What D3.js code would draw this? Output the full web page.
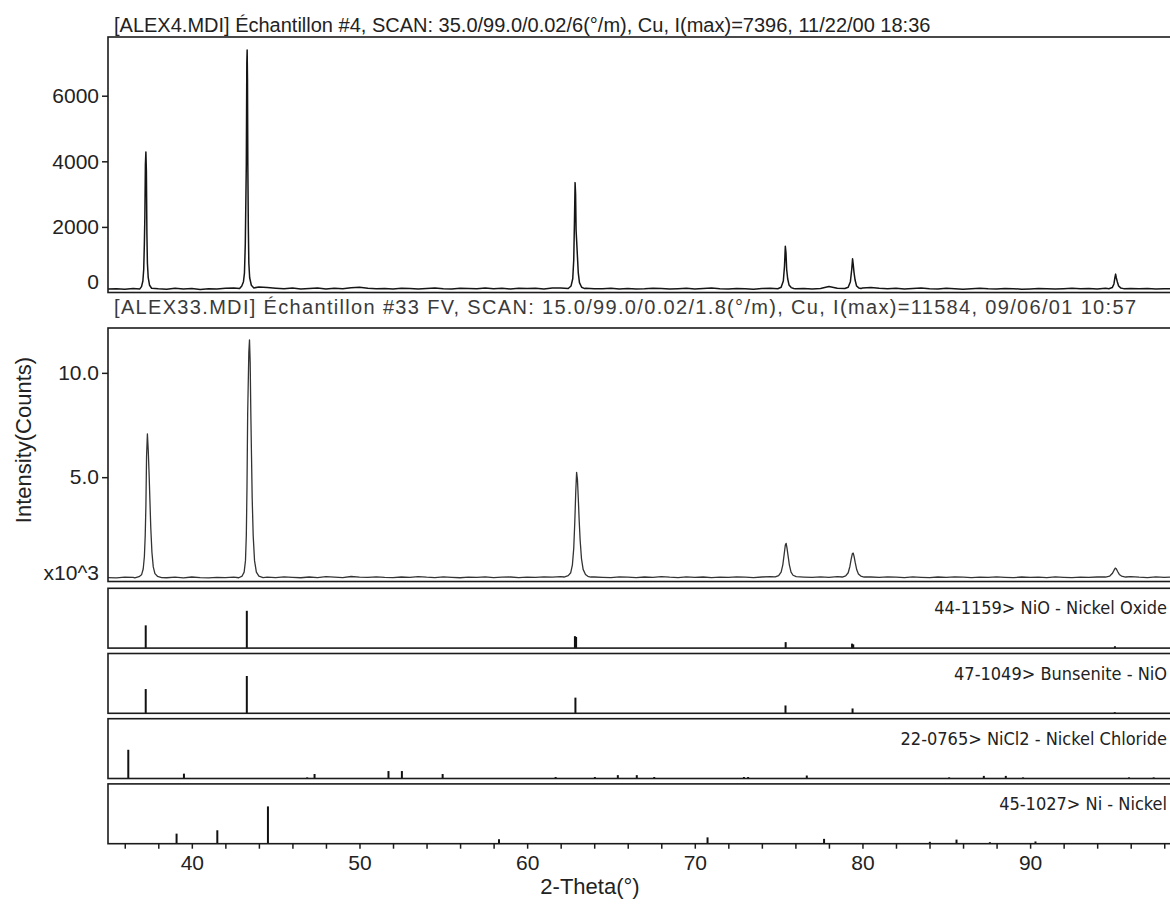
<!DOCTYPE html>
<html>
<head>
<meta charset="utf-8">
<script src="https://cdn.jsdelivr.net/npm/d3@7"></script>
<style>
  body { margin: 0; background: #fff; }
  svg { display: block; }
</style>
</head>
<body>
<svg id="chart" width="1170" height="906"></svg>
<script>
// ---------------- data ----------------
const thetaRange = [35, 99];
const thetaTicks = d3.range(36, 99, 2);          // minor/major ticks every 2°
const scanATicks = [0, 2000, 4000, 6000];
const scanBTicks = [0, 5000, 10000];

const scanATitle = "[ALEX4.MDI] Échantillon #4, SCAN: 35.0/99.0/0.02/6(°/m), Cu, I(max)=7396, 11/22/00 18:36";
const scanBTitle = "[ALEX33.MDI] Échantillon #33 FV, SCAN: 15.0/99.0/0.02/1.8(°/m), Cu, I(max)=11584, 09/06/01 10:57";

// ALEX4 background counts [2θ, counts]
const scanABackground = [
  [35.0,105],[35.5,118],[36.0,96],[36.5,124],[38.0,112],[38.5,98],[39.0,130],[39.5,104],
  [40.0,120],[40.5,92],[41.0,115],[41.5,108],[42.0,126],[42.5,140],[44.0,170],[44.5,150],
  [45.0,132],[45.5,118],[46.0,140],[46.5,110],[47.0,125],[47.5,136],[48.0,105],[48.5,128],
  [49.0,118],[49.5,146],[50.0,160],[50.5,132],[51.0,115],[51.5,124],[52.0,108],[52.5,132],
  [53.0,120],[53.5,104],[54.0,125],[54.5,140],[55.0,118],[55.5,108],[56.0,130],[56.5,122],
  [57.0,112],[57.5,138],[58.0,115],[58.5,126],[59.0,108],[59.5,132],[60.0,120],[60.5,128],
  [61.0,110],[61.5,135],[62.0,140],[63.5,128],[64.0,118],[64.5,112],[65.0,130],[65.5,110],
  [66.0,124],[66.5,108],[67.0,115],[67.5,132],[68.0,120],[68.5,105],[69.0,118],[69.5,126],
  [70.0,110],[70.5,122],[71.0,135],[71.5,118],[72.0,108],[72.5,125],[73.0,115],[73.5,102],
  [74.0,120],[74.5,128],[76.0,112],[76.5,120],[77.0,108],[77.5,125],[78.0,185],[78.5,130],
  [80.0,135],[80.5,150],[81.0,128],[81.5,118],[82.0,132],[82.5,110],[83.0,124],[83.5,138],
  [84.0,115],[84.5,108],[85.0,126],[85.5,118],[86.0,102],[86.5,115],[87.0,130],[87.5,112],
  [88.0,105],[88.5,122],[89.0,118],[89.5,98],[90.0,110],[90.5,125],[91.0,115],[91.5,104],
  [92.0,118],[92.5,130],[93.0,112],[93.5,120],[94.0,105],[94.5,128],[96.0,125],[96.5,112],
  [97.0,120],[97.5,106],[98.0,118],[98.5,110],[99.0,115]
];

// ALEX4 reflections [2θ, counts]
const scanAPeak111 = [[36.90,110],[37.00,180],[37.08,350],[37.13,700],[37.17,1500],[37.20,2350],[37.23,3900],[37.26,4280],[37.29,3700],[37.32,1800],[37.35,900],[37.40,450],[37.48,220],[37.60,130]];
const scanAPeak200 = [[42.85,120],[42.98,200],[43.08,330],[43.14,600],[43.19,1500],[43.22,2700],[43.25,3900],[43.28,7000],[43.30,7396],[43.32,6500],[43.34,3900],[43.37,2000],[43.40,900],[43.45,450],[43.55,220],[43.70,140]];
const scanAPeak220 = [[62.45,120],[62.62,200],[62.72,420],[62.78,1000],[62.82,2100],[62.86,3350],[62.89,3000],[62.92,1900],[62.96,1500],[63.00,1100],[63.05,600],[63.12,300],[63.25,160],[63.40,125]];
const scanAPeak311 = [[74.95,115],[75.15,160],[75.28,350],[75.35,800],[75.40,1411],[75.44,1200],[75.48,700],[75.54,420],[75.62,230],[75.75,150],[75.90,120]];
const scanAPeak222 = [[78.95,120],[79.15,160],[79.28,330],[79.36,700],[79.41,1030],[79.45,850],[79.50,600],[79.56,380],[79.65,200],[79.78,140],[79.92,125]];
const scanAPeak400 = [[94.70,115],[94.90,150],[95.00,260],[95.06,460],[95.10,560],[95.14,450],[95.20,330],[95.28,200],[95.40,140],[95.58,118]];

// ALEX33 background counts [2θ, counts]
const scanBBackground = [
  [35.0,190],[35.5,175],[36.0,210],[36.5,195],[38.5,180],[39.0,205],[39.5,170],[40.0,215],
  [40.5,190],[41.0,175],[41.5,200],[42.0,185],[42.5,210],[44.5,205],[45.0,185],[45.5,225],
  [46.0,200],[46.5,180],[47.0,215],[47.5,190],[48.0,230],[48.5,205],[49.0,185],[49.5,240],
  [50.0,210],[50.5,195],[51.0,225],[51.5,200],[52.0,185],[52.5,215],[53.0,195],[53.5,230],
  [54.0,205],[54.5,190],[55.0,220],[55.5,200],[56.0,180],[56.5,210],[57.0,195],[57.5,220],
  [58.0,190],[58.5,205],[59.0,215],[59.5,185],[60.0,210],[60.5,195],[61.0,225],[61.5,205],
  [62.0,230],[64.0,215],[64.5,200],[65.0,190],[65.5,220],[66.0,205],[66.5,185],[67.0,215],
  [67.5,195],[68.0,230],[68.5,205],[69.0,190],[69.5,220],[70.0,200],[70.5,215],[71.0,185],
  [71.5,210],[72.0,195],[72.5,225],[73.0,205],[73.5,190],[74.0,215],[74.5,235],[76.5,210],
  [77.0,195],[77.5,220],[78.0,200],[78.5,230],[80.5,215],[81.0,195],[81.5,225],[82.0,205],
  [82.5,190],[83.0,220],[83.5,200],[84.0,185],[84.5,215],[85.0,195],[85.5,225],[86.0,205],
  [86.5,190],[87.0,210],[87.5,195],[88.0,220],[88.5,200],[89.0,185],[89.5,215],[90.0,195],
  [90.5,210],[91.0,190],[91.5,220],[92.0,200],[92.5,185],[93.0,210],[93.5,195],[94.0,215],
  [96.0,230],[96.5,205],[97.0,190],[97.5,220],[98.0,200],[98.5,210],[99.0,195]
];

// ALEX33 reflections [2θ, counts]
const scanBPeak111 = [[36.60,170],[36.85,230],[37.00,320],[37.10,600],[37.17,1200],[37.22,2200],[37.26,3600],[37.30,6000],[37.35,7080],[37.40,6300],[37.45,5200],[37.50,3900],[37.55,2600],[37.62,1400],[37.70,700],[37.80,380],[37.95,250],[38.20,190]];
const scanBPeak200 = [[42.80,180],[43.00,260],[43.12,450],[43.20,1000],[43.25,2200],[43.29,4500],[43.33,8000],[43.40,11000],[43.44,11584],[43.48,10500],[43.52,8000],[43.56,6000],[43.60,4000],[43.66,2200],[43.74,1000],[43.85,450],[44.00,260],[44.25,190]];
const scanBPeak220 = [[62.20,215],[62.45,280],[62.60,420],[62.70,800],[62.78,1600],[62.84,2800],[62.90,4300],[62.95,5230],[63.00,4900],[63.05,4000],[63.10,3000],[63.16,2000],[63.24,1100],[63.34,580],[63.48,340],[63.62,250],[63.80,215]];
const scanBPeak311 = [[74.80,220],[75.00,280],[75.15,450],[75.25,800],[75.33,1300],[75.40,1750],[75.45,1830],[75.50,1600],[75.56,1250],[75.64,800],[75.74,450],[75.86,300],[76.05,230]];
const scanBPeak222 = [[78.80,215],[79.00,270],[79.15,420],[79.25,720],[79.33,1080],[79.40,1340],[79.45,1360],[79.50,1200],[79.57,900],[79.66,560],[79.76,360],[79.90,260],[80.10,215]];
const scanBPeak400 = [[94.50,215],[94.75,260],[94.90,380],[95.00,530],[95.08,640],[95.14,610],[95.22,480],[95.32,340],[95.45,260],[95.70,215]];

// reference patterns: [2θ, relative intensity %]
const refNames = [
  "44-1159> NiO - Nickel Oxide",
  "47-1049> Bunsenite - NiO",
  "22-0765> NiCl2 - Nickel Chloride",
  "45-1027> Ni - Nickel"
];
const refNiO = [[37.25,61],[43.28,100],[62.85,32],[62.92,30],[75.42,16],[79.38,12],[79.45,10],[95.06,5]];
const refBunsenite = [[37.25,65],[43.28,100],[62.88,42],[75.41,21],[79.41,13],[95.05,3]];
const refNiCl2 = [[36.21,77],[39.53,13],[46.88,3],[47.32,12],[51.73,20],[52.53,20],[54.96,12],[61.70,4],[64.04,4],[65.41,9],[66.54,9],[67.58,4],[72.93,4],[73.18,4],[76.68,8],[85.17,3],[87.24,7],[88.55,7],[89.58,3],[95.90,3],[97.37,3]];
const refNi = [[39.09,27],[41.52,36],[44.54,100],[58.32,12],[70.76,17],[77.71,13],[84.02,5],[85.61,11],[87.60,4],[90.32,6]];

// ---------------- drawing ----------------
const ink = "#1c1c1c";
const sansFont = "'Liberation Sans', Arial, Helvetica, sans-serif";
const condFont = "'DejaVu Sans Condensed', 'DejaVu Sans', sans-serif";

const svg = d3.select("#chart");
const left = 108, right = 1181;
const x = d3.scaleLinear().domain(thetaRange).range([left, right]);

const defs = svg.append("defs");

function frame(top, bottom) {
  svg.append("rect")
    .attr("x", left).attr("y", top)
    .attr("width", right - left).attr("height", bottom - top)
    .attr("fill", "none").attr("stroke", ink).attr("stroke-width", 1.6);
}

function clipFor(id, top, bottom) {
  defs.append("clipPath").attr("id", id)
    .append("rect").attr("x", left).attr("y", top)
    .attr("width", right - left).attr("height", bottom - top);
  return `url(#${id})`;
}

function mergeScan(background, peaks) {
  const windows = peaks.map(p => [p[0][0], p[p.length - 1][0]]);
  const bg = background.filter(d => !windows.some(w => d[0] >= w[0] && d[0] <= w[1]));
  return bg.concat(...peaks).sort((a, b) => a[0] - b[0]);
}

function drawScan(opts) {
  const { top, bottom, yMax, points, ticks, fmt, zeroShift, title, titleY, titleWidth,
          titleColor, lineColor, lineWidth, id } = opts;
  const y = d3.scaleLinear().domain([0, yMax]).range([bottom, top]);

  const t = svg.append("text")
    .attr("x", 114).attr("y", titleY)
    .attr("font-family", sansFont).attr("font-size", 20)
    .attr("fill", titleColor).text(title);
  if (titleWidth) t.attr("textLength", titleWidth).attr("lengthAdjust", "spacing");

  const line = d3.line().x(d => x(d[0])).y(d => y(d[1]));
  svg.append("path")
    .datum(points)
    .attr("clip-path", clipFor(id, top, bottom))
    .attr("d", line)
    .attr("fill", "none").attr("stroke", lineColor)
    .attr("stroke-width", lineWidth).attr("stroke-linejoin", "round");

  frame(top, bottom);

  const ax = svg.append("g").attr("transform", `translate(${left},0)`)
    .call(d3.axisLeft(y).tickValues(ticks).tickSize(6).tickPadding(3).tickFormat(fmt));
  ax.select(".domain").remove();
  ax.selectAll(".tick line").attr("stroke", ink).attr("stroke-width", 1.5);
  ax.selectAll(".tick text")
    .attr("font-family", sansFont).attr("font-size", 21).attr("fill", "#222");
  const zero = ax.selectAll(".tick").filter(d => d === 0);
  zero.select("line").remove();
  zero.select("text").attr("dy", zeroShift);
}

drawScan({
  id: "clipA", top: 37, bottom: 292.5, yMax: 7790,
  points: mergeScan(scanABackground, [scanAPeak111, scanAPeak200, scanAPeak220, scanAPeak311, scanAPeak222, scanAPeak400]),
  ticks: scanATicks, fmt: d3.format("d"), zeroShift: "-0.2em",
  title: scanATitle, titleY: 32, titleColor: "#222", lineColor: "#151515", lineWidth: 1.5
});

drawScan({
  id: "clipB", top: 328, bottom: 581.5, yMax: 12150,
  points: mergeScan(scanBBackground, [scanBPeak111, scanBPeak200, scanBPeak220, scanBPeak311, scanBPeak222, scanBPeak400]),
  ticks: scanBTicks, fmt: d => d === 0 ? "x10^3" : (d / 1000).toFixed(1), zeroShift: "-0.1em",
  title: scanBTitle, titleY: 314, titleWidth: 1022, titleColor: "#3a3a3a",
  lineColor: "#333", lineWidth: 1.3
});

// reference stick patterns
const refSets = [refNiO, refBunsenite, refNiCl2, refNi];
const refTop0 = 588.3, refPitch = 65.2, refHeight = 59.8;
refSets.forEach((sticks, i) => {
  const top = refTop0 + i * refPitch;
  const bottom = top + refHeight;
  const yr = d3.scaleLinear().domain([0, 100]).range([bottom, top + 22.5]);
  svg.append("g").selectAll("line")
    .data(sticks).join("line")
    .attr("x1", d => x(d[0])).attr("x2", d => x(d[0]))
    .attr("y1", bottom).attr("y2", d => yr(d[1]))
    .attr("stroke", "#111").attr("stroke-width", 2);
  frame(top, bottom);
  svg.append("text")
    .attr("x", 1167).attr("y", top + 26)
    .attr("text-anchor", "end")
    .attr("font-family", condFont).attr("font-size", 18)
    .attr("fill", "#222").text(refNames[i]);
});

// 2θ axis under the last reference pattern
const axisY = refTop0 + 3 * refPitch + refHeight;
const xAxis = svg.append("g").attr("transform", `translate(0,${axisY})`)
  .call(d3.axisBottom(x).tickValues(thetaTicks).tickSize(5).tickPadding(6)
    .tickFormat(d => d % 10 === 0 ? d : ""));
xAxis.select(".domain").remove();
xAxis.selectAll(".tick line").attr("stroke", ink).attr("stroke-width", 1.5);
xAxis.selectAll(".tick text")
  .attr("font-family", sansFont).attr("font-size", 21).attr("fill", "#222");

svg.append("text")
  .attr("x", 590).attr("y", 894)
  .attr("text-anchor", "middle")
  .attr("font-family", sansFont).attr("font-size", 22).attr("fill", "#222")
  .text("2-Theta(°)");

svg.append("text")
  .attr("transform", "translate(23,440) rotate(-90)")
  .attr("text-anchor", "middle").attr("dominant-baseline", "central")
  .attr("font-family", sansFont).attr("font-size", 22).attr("fill", "#222")
  .text("Intensity(Counts)");
</script>
</body>
</html>
